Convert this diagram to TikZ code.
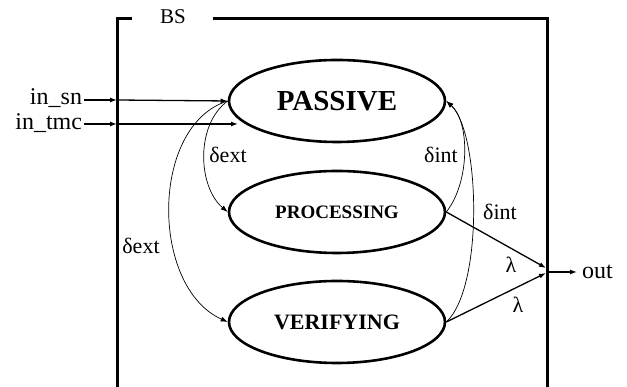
\documentclass[tikz,border=0pt]{standalone}
\usepackage{fontspec}
\setmainfont{Liberation Serif}
\usetikzlibrary{shapes.geometric,arrows.meta}
\begin{document}
\begin{tikzpicture}[x=1pt,y=1pt,
  state/.style={draw,ellipse,line width=2.6pt,minimum width=216pt,minimum height=82pt,inner sep=0pt,font=\bfseries},
  frame/.style={line width=3pt},
  link/.style={line width=1.3pt,-{Latex[length=7pt,width=5pt]}},
  trans/.style={line width=0.7pt,-{Latex[length=7pt,width=5pt]}},
  lbl/.style={font=\fontsize{22}{22}\selectfont,inner sep=0pt},
  port/.style={font=\fontsize{24}{24}\selectfont,inner sep=0pt}
]
\useasboundingbox (0,0) rectangle (627,387);
% enclosing model box, open at the bottom
\draw[frame] (132,368) -- (117,368) -- (117,0);
\draw[frame] (213,368) -- (547,368) -- (547,0);
\node[lbl,font=\fontsize{21}{21}\selectfont] (bs) at (173,370) {BS};
% states
\node[state,font=\bfseries\fontsize{29}{29}\selectfont] (passive) at (337,286) {PASSIVE};
\node[state,font=\bfseries\fontsize{19}{19}\selectfont] (processing) at (337,175) {PROCESSING};
\node[state,font=\bfseries\fontsize{22}{22}\selectfont] (verifying) at (337,65) {VERIFYING};
% input ports
\node[port,anchor=east,outer sep=2pt] (insn) at (84,289) {in\_sn};
\node[port,anchor=east,outer sep=2pt] (intmc) at (84,264) {in\_tmc};
\coordinate (psn) at (117,287);
\coordinate (ptmc) at (117,263);
\coordinate (tmcend) at (238,263);
\draw[link] (insn.east |- psn) -- (psn);
\draw[link] (psn) -- (passive.west);
\draw[link] (intmc.east |- ptmc) -- (ptmc);
\draw[link] (ptmc) -- (tmcend);
% external transitions
\draw[trans] (passive.west) .. controls (195,262) and (198,200) .. (processing.west);
\node[lbl] (dext1) at (228,232) {δext};
\draw[trans] (passive.west) .. controls (150,262) and (150,100) .. (verifying.west);
\node[lbl] (dext2) at (141,141) {δext};
% internal transitions
\draw[trans] (processing.east) .. controls (470,205) and (470,265) .. (passive.east);
\node[lbl] (dint1) at (441,232) {δint};
\draw[trans] (verifying.east) .. controls (484,100) and (480,255) .. (passive.east);
\node[lbl] (dint2) at (500,175) {δint};
% output port
\coordinate (pout1) at (546,119);
\coordinate (pout2) at (546,114);
\coordinate (pout) at (547,115);
\coordinate (outend) at (577,115);
\draw[link] (processing.east) -- (pout1);
\draw[link] (verifying.east) -- (pout2);
\draw[link] (pout) -- (outend);
\node[port,anchor=west] (out) at (582,115) {out};
\node[lbl] (lam1) at (511,122) {λ};
\node[lbl] (lam2) at (518,82) {λ};
\end{tikzpicture}
\end{document}
